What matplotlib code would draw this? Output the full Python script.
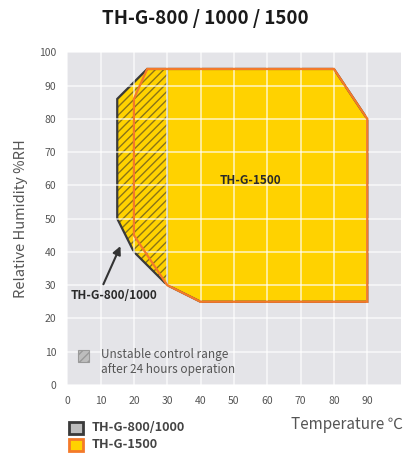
# operating range chart for the TH-G chambers
import matplotlib
matplotlib.use("Agg")
import matplotlib.pyplot as plt
from matplotlib.patches import Polygon, Rectangle

plt.rcParams['font.family'] = ['Noto Sans CJK KR', 'DejaVu Sans']
plt.rcParams['hatch.linewidth'] = 1.0

# outline of the TH-G-1500 range (temperature, humidity)
big_temp = [24, 80, 90, 90, 40, 30, 20, 20]
big_rh = [95, 95, 80, 25, 25, 30, 45, 86]

# outline of the TH-G-800/1000 range
small_temp = [15, 24, 80, 90, 90, 40, 30, 20, 15]
small_rh = [86, 95, 95, 80, 25, 25, 30, 40, 50]

# unstable part (hatched), left of 30 C
hatch_temp = [15, 24, 30, 30, 20, 15]
hatch_rh = [86, 95, 95, 30, 40, 50]

x_ticks = [0, 10, 20, 30, 40, 50, 60, 70, 80, 90]
y_ticks = [0, 10, 20, 30, 40, 50, 60, 70, 80, 90, 100]

yellow = '#ffd200'
orange = '#f47a2a'
dark = '#3a3a3a'
grey_txt = '#555555'

fig = plt.figure(figsize=(4.1, 4.55), dpi=100)
ax = fig.add_axes([0.164, 0.154, 0.813, 0.731])
ax.set_facecolor('#e4e4e8')

# yellow fill under the grid
ax.add_patch(Polygon(list(zip(small_temp, small_rh)), closed=True,
                     facecolor=yellow, edgecolor='none', zorder=1))
ax.add_patch(Polygon(list(zip(hatch_temp, hatch_rh)), closed=True,
                     facecolor='none', edgecolor='#8a7418', hatch='////',
                     linewidth=0, zorder=1.2))
ax.grid(True, color='white', linewidth=1.2, alpha=0.7, zorder=1.5)
ax.set_axisbelow(False)
for line in ax.get_xgridlines() + ax.get_ygridlines():
    line.set_zorder(1.5)

ax.plot([30, 30], [30, 95], color='#9a9a9a', linewidth=1, zorder=2)
ax.add_patch(Polygon(list(zip(small_temp, small_rh)), closed=True,
                     facecolor='none', edgecolor=dark, linewidth=1.6, zorder=2.5))
ax.add_patch(Polygon(list(zip(big_temp, big_rh)), closed=True,
                     facecolor='none', edgecolor=orange, linewidth=1.6, zorder=3))

ax.set_xlim(0, 100)
ax.set_ylim(0, 100)
ax.set_xticks(x_ticks)
ax.set_yticks(y_ticks)
ax.tick_params(length=0, labelsize=7.5, colors=grey_txt, pad=8)
for s in ax.spines.values():
    s.set_visible(False)

ax.set_ylabel('Relative Humidity %RH', fontsize=10.5, color=grey_txt, labelpad=8)

ax.text(55, 61.5, 'TH-G-1500', fontsize=8.5, fontweight='bold', color='#2a2a2a',
        ha='center', va='center', zorder=4)
ax.text(1, 27, 'TH-G-800/1000', fontsize=8.5, fontweight='bold', color='#2a2a2a',
        ha='left', va='center', zorder=4)
ax.annotate('', xy=(16.3, 42.5), xytext=(10.5, 29.5),
            arrowprops=dict(arrowstyle='-|>', color='#333333', lw=1.5,
                            mutation_scale=12), zorder=4)

# in-plot legend for the hatched area
ax.add_patch(Rectangle((3.3, 7.0), 3.2, 3.5, facecolor='#bdbdbd', edgecolor='#999999',
                       hatch='////', linewidth=0.8, zorder=4))
ax.text(10, 6.9, 'Unstable control range\nafter 24 hours operation', fontsize=8.5,
        color=grey_txt, ha='left', va='center', linespacing=1.15, zorder=4)

fig.text(0.5, 0.96, 'TH-G-800 / 1000 / 1500', fontsize=13.5, fontweight='bold',
         ha='center', va='center', color='#1a1a1a')
fig.text(0.983, 0.066, 'Temperature \u2103', fontsize=11, color=grey_txt,
         ha='right', va='center')

# model legend under the plot
fig.patches.append(Rectangle((0.168, 0.046), 0.034, 0.027, transform=fig.transFigure,
                             facecolor='#bdbdbd', edgecolor=dark, linewidth=2))
fig.patches.append(Rectangle((0.168, 0.008), 0.034, 0.027, transform=fig.transFigure,
                             facecolor=yellow, edgecolor=orange, linewidth=2))
fig.text(0.224, 0.0615, 'TH-G-800/1000', fontsize=9.2, fontweight='bold',
         color='#444444', va='center')
fig.text(0.224, 0.022, 'TH-G-1500', fontsize=9.2, fontweight='bold',
         color='#444444', va='center')

fig.savefig('out.png', dpi=100)
